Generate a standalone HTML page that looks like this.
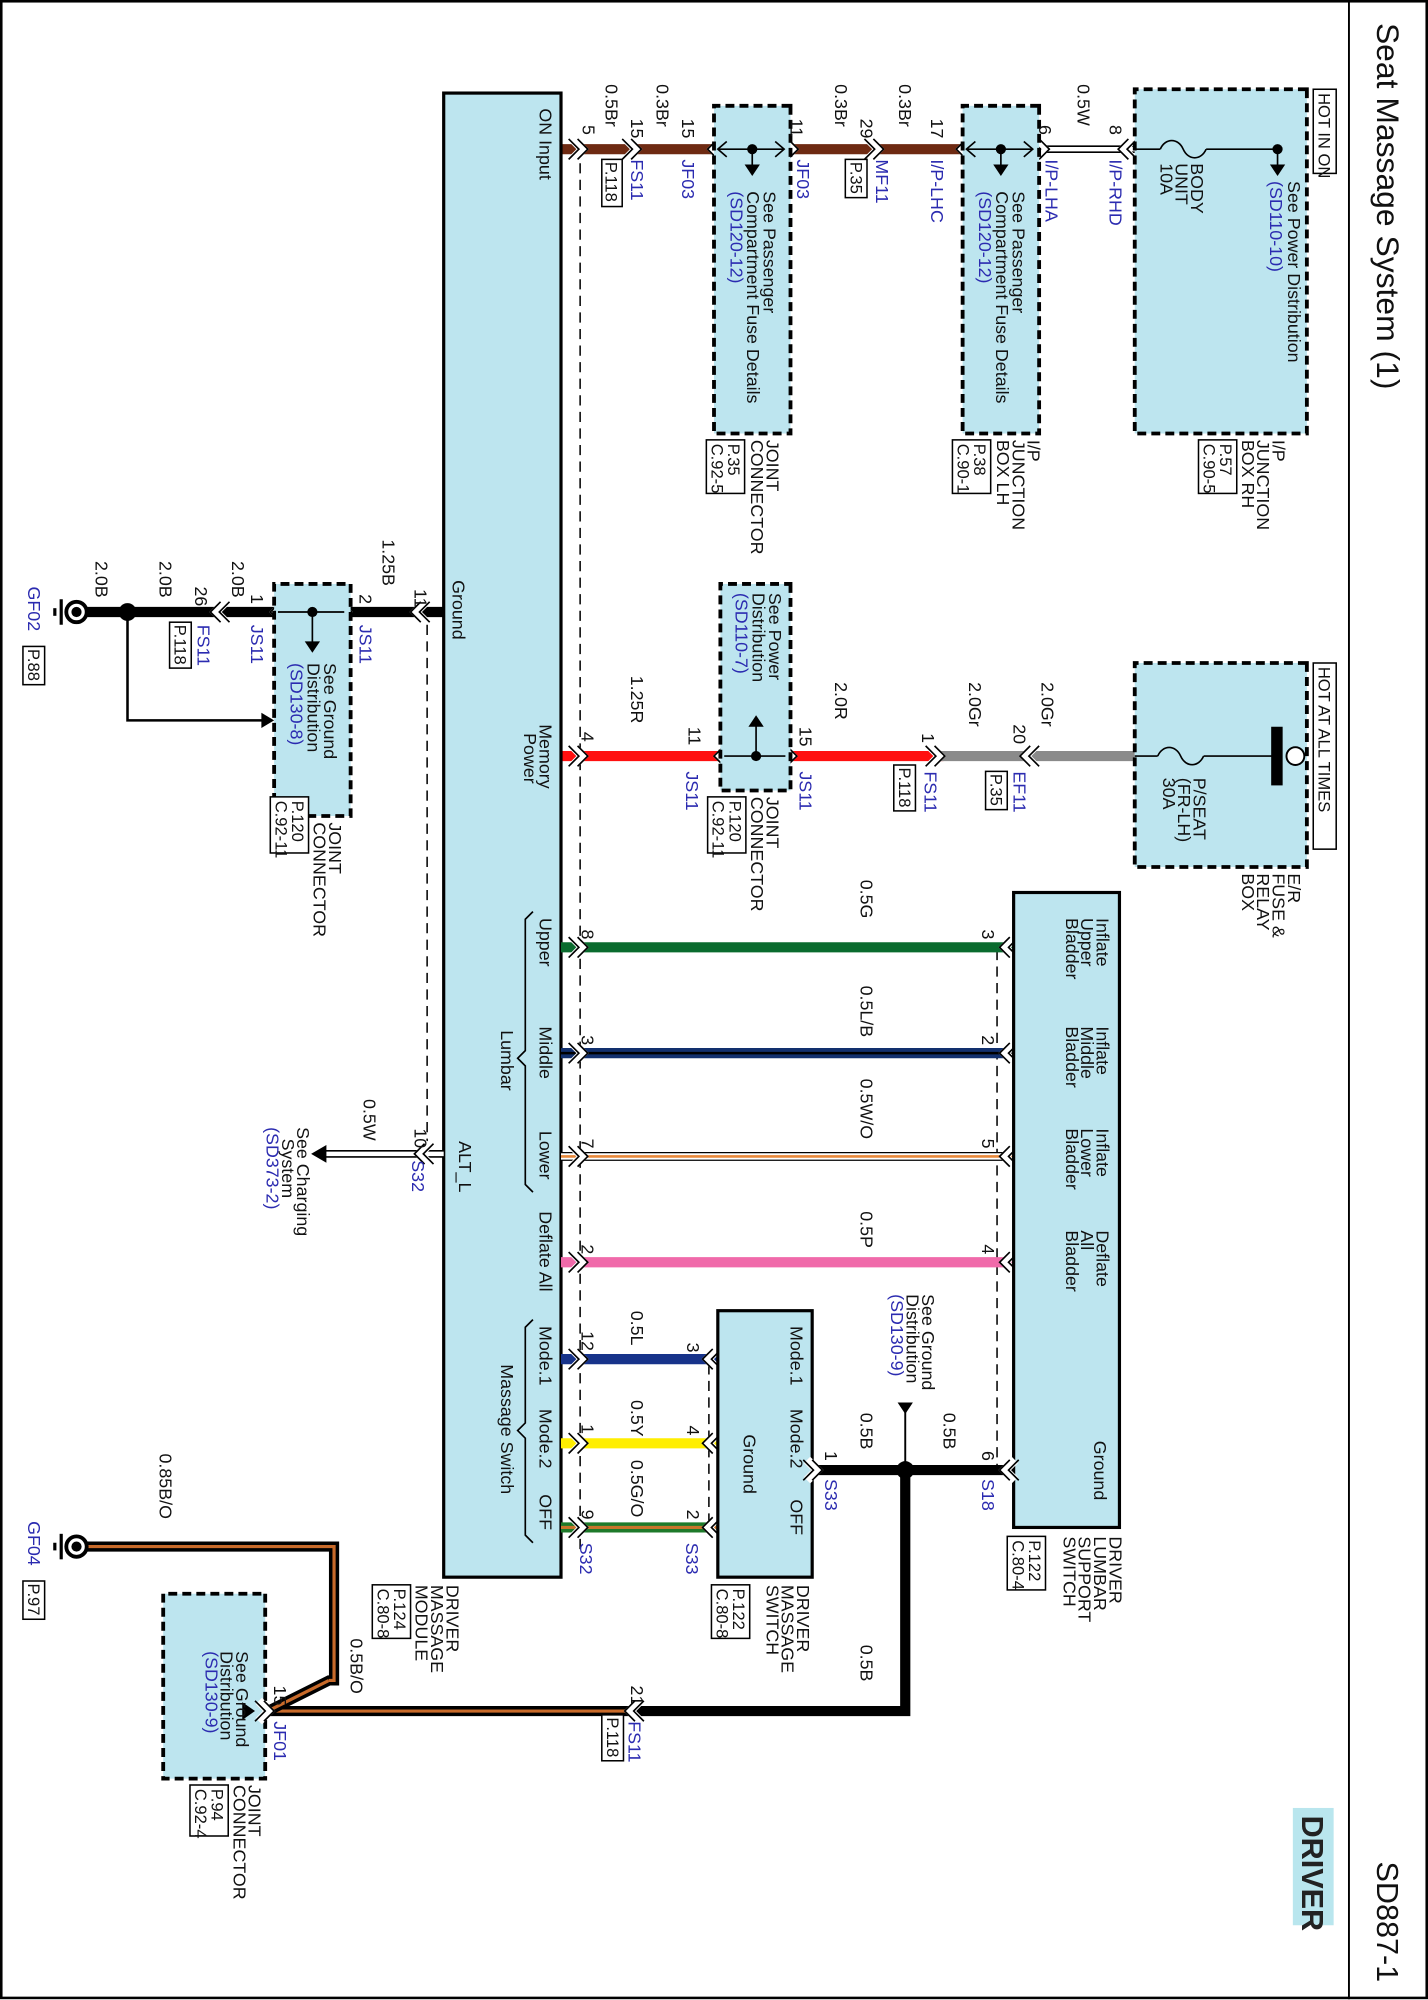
<!DOCTYPE html>
<html><head><meta charset="utf-8">
<style>
html,body{margin:0;padding:0;background:#fff;overflow:hidden;}
svg{display:block;}
text{font-family:"Liberation Sans",Arial,sans-serif;font-size:14px;fill:#111;}
.b{fill:#2b2bb0;}
.s{font-size:13px;}
.bx{fill:#bde5ef;stroke:#000;stroke-width:2.5;}
.db{fill:#bde5ef;stroke:#000;stroke-width:3;stroke-dasharray:7,4;}
.pr{fill:#fff;stroke:#000;stroke-width:1.2;}
.dl{fill:none;stroke:#000;stroke-width:1.2;stroke-dasharray:8,5;}
.th{fill:none;stroke:#000;stroke-width:1.3;}
</style></head><body>
<svg width="1428" height="2000" viewBox="0 0 1428 2000" xmlns="http://www.w3.org/2000/svg">
<defs>
<g id="cu"><path d="M-8,9 L0,1 L8,9" stroke="#fff" stroke-width="7" fill="none"/><path d="M-8,5 L0,-3 L8,5 M-8,12 L0,4 L8,12" stroke="#000" stroke-width="1.3" fill="none"/></g>
<g id="cd"><path d="M-8,-9 L0,-1 L8,-9" stroke="#fff" stroke-width="7" fill="none"/><path d="M-8,-5 L0,3 L8,-5 M-8,-12 L0,-4 L8,-12" stroke="#000" stroke-width="1.3" fill="none"/></g>
</defs>
<rect x="0" y="0" width="1428" height="2000" fill="#fff"/>
<g transform="scale(1.275) translate(1120,0) rotate(90)">
<!-- frame -->
<rect x="1" y="1" width="1566" height="1118" fill="none" stroke="#000" stroke-width="2"/>
<line x1="0" y1="62" x2="1568" y2="62" stroke="#000" stroke-width="1.5"/>
<text x="18" y="40" style="font-size:25px">Seat Massage System (1)</text>
<text x="1460" y="40" style="font-size:24px">SD887-1</text>
<rect x="1418" y="74" width="92" height="32" fill="#b9e6ee"/>
<text x="1424" y="99" style="font-size:24px;font-weight:bold;fill:#222">DRIVER</text>

<!-- dashed guide lines -->
<line x1="115" y1="665" x2="1215" y2="665" class="dl"/>
<line x1="490" y1="785" x2="895" y2="785" class="dl"/>
<line x1="745" y1="338" x2="1160" y2="338" class="dl"/>
<line x1="1070" y1="564" x2="1195" y2="564" class="dl"/>

<!-- ===== TOP WIRE (ON Input) ===== -->
<line x1="117" y1="680" x2="117" y2="320" stroke="#6e2a12" stroke-width="8"/>
<line x1="117" y1="322" x2="117" y2="230" stroke="#000" stroke-width="6"/>
<line x1="117" y1="322" x2="117" y2="230" stroke="#fff" stroke-width="3.5"/>
<use href="#cu" x="117" y="662"/><use href="#cu" x="117" y="620"/><use href="#cd" x="117" y="562"/>
<use href="#cu" x="117" y="497"/><use href="#cu" x="117" y="430"/><use href="#cd" x="117" y="367"/>
<use href="#cu" x="117" y="300"/><use href="#cd" x="117" y="240"/>
<text x="98" y="663">5</text><text x="66" y="645">0.5Br</text>
<text x="93" y="625">15</text><text x="125" y="625" class="b">FS11</text>
<rect x="125" y="632" width="37" height="16" class="pr"/><text x="127" y="645" class="s">P.118</text>
<text x="66" y="605">0.3Br</text>
<text x="93" y="585">15</text><text x="125" y="585" class="b">JF03</text>
<rect x="83" y="500" width="257" height="60" class="db"/>
<line x1="117" y1="505" x2="117" y2="557" stroke="#000" stroke-width="1.3"/>
<path d="M111,512 L117,505 L123,512 M111,550 L117,557 L123,550" class="th"/>
<circle cx="117" cy="530" r="4"/><line x1="117" y1="530" x2="130" y2="530" stroke="#000" stroke-width="1.3"/>
<path d="M129,524 L138,530 L129,536 Z"/>
<text x="150" y="521">See Passenger</text><text x="150" y="534">Compartment Fuse Details</text><text x="150" y="547" class="b">(SD120-12)</text>
<text x="345" y="519">JOINT</text><text x="345" y="531">CONNECTOR</text>
<rect x="345" y="536" width="42" height="30" class="pr"/><text x="348" y="549" class="s">P.35</text><text x="348" y="562" class="s">C.92-5</text>
<text x="93" y="500">11</text><text x="125" y="495" class="b">JF03</text>
<text x="66" y="465">0.3Br</text>
<text x="93" y="445">29</text><text x="125" y="433" class="b">MF11</text>
<rect x="125" y="440" width="30" height="17" class="pr"/><text x="127" y="453" class="s">P.35</text>
<text x="66" y="415">0.3Br</text>
<text x="93" y="390">17</text><text x="125" y="390" class="b">I/P-LHC</text>
<rect x="83" y="305" width="257" height="60" class="db"/>
<line x1="117" y1="310" x2="117" y2="362" stroke="#000" stroke-width="1.3"/>
<path d="M111,317 L117,310 L123,317 M111,355 L117,362 L123,355" class="th"/>
<circle cx="117" cy="335" r="4"/><line x1="117" y1="335" x2="130" y2="335" stroke="#000" stroke-width="1.3"/>
<path d="M129,329 L138,335 L129,341 Z"/>
<text x="150" y="326">See Passenger</text><text x="150" y="339">Compartment Fuse Details</text><text x="150" y="352" class="b">(SD120-12)</text>
<text x="345" y="314">I/P</text><text x="345" y="326">JUNCTION</text><text x="345" y="338">BOX LH</text>
<rect x="345" y="343" width="42" height="30" class="pr"/><text x="348" y="356" class="s">P.38</text><text x="348" y="369" class="s">C.90-1</text>
<text x="98" y="305">6</text><text x="125" y="300" class="b">I/P-LHA</text>
<text x="66" y="275">0.5W</text>
<text x="98" y="250">8</text><text x="125" y="250" class="b">I/P-RHD</text>
<rect x="70" y="95" width="270" height="135" class="db"/>
<line x1="117" y1="230" x2="117" y2="210" stroke="#000" stroke-width="1.3"/>
<path d="M117,210 c-9,-4 -9,-14 0,-18 c9,-4 9,-14 0,-18" class="th"/>
<line x1="117" y1="174" x2="117" y2="118" stroke="#000" stroke-width="1.3"/>
<circle cx="117" cy="118" r="4"/><line x1="117" y1="118" x2="130" y2="118" stroke="#000" stroke-width="1.3"/>
<path d="M129,112 L138,118 L129,124 Z"/>
<text x="142" y="110">See Power Distribution</text><text x="142" y="124" class="b">(SD110-10)</text>
<text x="128" y="186">BODY</text><text x="128" y="198">UNIT</text><text x="128" y="210">10A</text>
<rect x="70" y="72" width="66" height="18" fill="#fff" stroke="#000" stroke-width="1.2"/><text x="73" y="86" class="s">HOT IN ON</text>
<text x="345" y="122">I/P</text><text x="345" y="134">JUNCTION</text><text x="345" y="146">BOX RH</text>
<rect x="345" y="150" width="42" height="30" class="pr"/><text x="348" y="163" class="s">P.57</text><text x="348" y="176" class="s">C.90-5</text>

<!-- ===== GROUND WIRE ===== -->
<line x1="480" y1="772" x2="480" y2="1052" stroke="#000" stroke-width="8"/>
<use href="#cd" x="480" y="795"/><use href="#cu" x="480" y="847"/><use href="#cd" x="480" y="905"/><use href="#cd" x="480" y="952"/>
<text x="462" y="795">11</text><text x="423" y="820">1.25B</text>
<text x="466" y="838">2</text><text x="490" y="838" class="b">JS11</text>
<rect x="458" y="845" width="182" height="60" class="db"/>
<line x1="480" y1="850" x2="480" y2="902" stroke="#000" stroke-width="1.3"/>
<circle cx="480" cy="875" r="4"/><line x1="480" y1="875" x2="505" y2="875" stroke="#000" stroke-width="1.3"/>
<path d="M503,869 L512,875 L503,881 Z"/>
<text x="520" y="866">See Ground</text><text x="520" y="879">Distribution</text><text x="520" y="892" class="b">(SD130-8)</text>
<text x="466" y="923">1</text><text x="490" y="923" class="b">JS11</text>
<text x="440" y="938">2.0B</text>
<text x="460" y="967">26</text><text x="490" y="965" class="b">FS11</text>
<rect x="488" y="970" width="36" height="17" class="pr"/><text x="490" y="983" class="s">P.118</text>
<text x="440" y="995">2.0B</text>
<circle cx="480" cy="1020" r="7"/>
<path d="M480,1020 L565,1020 L565,912" fill="none" stroke="#000" stroke-width="2"/>
<path d="M559,915 L565,905 L571,915 Z"/>
<text x="440" y="1045">2.0B</text>
<circle cx="480" cy="1060" r="8" fill="#fff" stroke="#000" stroke-width="3"/><circle cx="480" cy="1060" r="4"/>
<line x1="470" y1="1072" x2="490" y2="1072" stroke="#000" stroke-width="2.5"/>
<line x1="477" y1="1077" x2="483" y2="1077" stroke="#000" stroke-width="2.5"/>
<text x="460" y="1098" class="b">GF02</text>
<rect x="507" y="1085" width="30" height="17" class="pr"/><text x="509" y="1098" class="s">P.88</text>
<text x="645" y="862">JOINT</text><text x="645" y="874">CONNECTOR</text>
<rect x="625" y="878" width="44" height="30" class="pr"/><text x="628" y="891" class="s">P.120</text><text x="628" y="904" class="s">C.92-11</text>

<!-- ===== MEMORY POWER ===== -->
<line x1="593" y1="680" x2="593" y2="380" stroke="#ff1010" stroke-width="8"/>
<line x1="593" y1="382" x2="593" y2="230" stroke="#8a8a8a" stroke-width="8"/>
<use href="#cu" x="593" y="662"/><use href="#cd" x="593" y="557"/><use href="#cu" x="593" y="498"/>
<use href="#cu" x="593" y="382"/><use href="#cd" x="593" y="317"/>
<text x="574" y="664">4</text><text x="530" y="625">1.25R</text>
<text x="570" y="580">11</text><text x="605" y="582" class="b">JS11</text>
<rect x="458" y="500" width="162" height="55" class="db"/>
<line x1="593" y1="504" x2="593" y2="552" stroke="#000" stroke-width="1.3"/>
<circle cx="593" cy="527" r="4"/><line x1="593" y1="527" x2="568" y2="527" stroke="#000" stroke-width="1.3"/>
<path d="M570,521 L561,527 L570,533 Z"/>
<text x="465" y="517">See Power</text><text x="465" y="530">Distribution</text><text x="465" y="543" class="b">(SD110-7)</text>
<text x="570" y="493">15</text><text x="605" y="493" class="b">JS11</text>
<text x="625" y="519">JOINT</text><text x="625" y="531">CONNECTOR</text>
<rect x="625" y="535" width="44" height="30" class="pr"/><text x="628" y="548" class="s">P.120</text><text x="628" y="561" class="s">C.92-11</text>
<text x="535" y="465">2.0R</text>
<text x="575" y="397">1</text><text x="605" y="395" class="b">FS11</text>
<rect x="600" y="402" width="36" height="17" class="pr"/><text x="602" y="415" class="s">P.118</text>
<text x="535" y="360">2.0Gr</text>
<text x="568" y="325">20</text><text x="605" y="325" class="b">EF11</text>
<rect x="605" y="330" width="30" height="17" class="pr"/><text x="607" y="343" class="s">P.35</text>
<text x="535" y="303">2.0Gr</text>
<rect x="520" y="95" width="160" height="135" class="db"/>
<line x1="593" y1="230" x2="593" y2="212" stroke="#000" stroke-width="1.3"/>
<path d="M593,212 c-9,-4 -9,-14 0,-18 c9,-4 9,-14 0,-18" class="th"/>
<line x1="593" y1="176" x2="593" y2="122" stroke="#000" stroke-width="1.3"/>
<rect x="570" y="114" width="46" height="9"/>
<circle cx="593" cy="104" r="7" fill="#fff" stroke="#000" stroke-width="1.5"/>
<text x="610" y="184">P/SEAT</text><text x="610" y="196">(FR-LH)</text><text x="610" y="208">30A</text>
<rect x="520" y="72" width="146" height="18" fill="#fff" stroke="#000" stroke-width="1.2"/><text x="523" y="86" class="s">HOT AT ALL TIMES</text>
<text x="685" y="110">E/R</text><text x="685" y="122">FUSE &amp;</text><text x="685" y="134">RELAY</text><text x="685" y="146">BOX</text>

<!-- ===== MODULE BOX ===== -->
<rect x="73" y="680" width="1164" height="92" class="bx"/>
<text x="85" y="697">ON Input</text>
<text x="455" y="765">Ground</text>
<text x="568" y="697">Memory</text><text x="575" y="709">Power</text>
<text x="720" y="697">Upper</text><text x="805" y="697">Middle</text><text x="887" y="697">Lower</text>
<text x="950" y="697">Deflate All</text><text x="1040" y="697">Mode.1</text><text x="1105" y="697">Mode.2</text><text x="1172" y="697">OFF</text>
<path d="M715,702 L721,708 L824,708 L830,714 L836,708 L929,708 L935,702" class="th"/>
<text x="808" y="727">Lumbar</text>
<path d="M1035,702 L1041,708 L1116,708 L1122,714 L1128,708 L1204,708 L1210,702" class="th"/>
<text x="1070" y="727">Massage Switch</text>
<text x="895" y="760">ALT_L</text>

<!-- ALT_L wire -->
<line x1="905" y1="772" x2="905" y2="866" stroke="#000" stroke-width="6"/>
<line x1="905" y1="772" x2="905" y2="866" stroke="#fff" stroke-width="3.5"/>
<path d="M898,864 L905,876 L912,864 Z"/>
<use href="#cd" x="905" y="792"/>
<text x="885" y="795">10</text><text x="910" y="797" class="b">S32</text>
<text x="862" y="835">0.5W</text>
<text x="884" y="887">See Charging</text><text x="893" y="899">System</text><text x="884" y="911" class="b">(SD373-2)</text>

<!-- ===== LUMBAR ===== -->
<line x1="743" y1="680" x2="743" y2="325" stroke="#0a6b2e" stroke-width="8"/>
<line x1="826" y1="680" x2="826" y2="325" stroke="#12306e" stroke-width="8"/>
<line x1="826" y1="680" x2="826" y2="325" stroke="#000" stroke-width="2"/>
<line x1="907" y1="680" x2="907" y2="325" stroke="#000" stroke-width="7"/>
<line x1="907" y1="680" x2="907" y2="325" stroke="#fff" stroke-width="5"/>
<line x1="907" y1="680" x2="907" y2="325" stroke="#e8883a" stroke-width="2"/>
<line x1="990" y1="680" x2="990" y2="325" stroke="#f06aaa" stroke-width="8"/>
<use href="#cu" x="743" y="662"/><use href="#cu" x="826" y="662"/><use href="#cu" x="907" y="662"/><use href="#cu" x="990" y="662"/>
<use href="#cd" x="743" y="333"/><use href="#cd" x="826" y="333"/><use href="#cd" x="907" y="333"/><use href="#cd" x="990" y="333"/>
<text x="729" y="664">8</text><text x="729" y="350">3</text><text x="690" y="445">0.5G</text>
<text x="812" y="664">3</text><text x="812" y="350">2</text><text x="773" y="445">0.5L/B</text>
<text x="893" y="664">7</text><text x="893" y="350">5</text><text x="846" y="445">0.5W/O</text>
<text x="976" y="664">2</text><text x="976" y="350">4</text><text x="950" y="445">0.5P</text>
<rect x="700" y="242" width="498" height="83" class="bx"/>
<text x="720" y="260">Inflate</text><text x="720" y="272">Upper</text><text x="720" y="284">Bladder</text>
<text x="805" y="260">Inflate</text><text x="805" y="272">Middle</text><text x="805" y="284">Bladder</text>
<text x="885" y="260">Inflate</text><text x="885" y="272">Lower</text><text x="885" y="284">Bladder</text>
<text x="965" y="260">Deflate</text><text x="965" y="272">All</text><text x="965" y="284">Bladder</text>
<text x="1130" y="262">Ground</text>
<text x="1205" y="250">DRIVER</text><text x="1205" y="262">LUMBAR</text><text x="1205" y="274">SUPPORT</text><text x="1205" y="286">SWITCH</text>
<rect x="1205" y="300" width="42" height="30" class="pr"/><text x="1208" y="313" class="s">P.122</text><text x="1208" y="326" class="s">C.80-4</text>

<!-- ===== MASSAGE SWITCH ===== -->
<line x1="1066" y1="680" x2="1066" y2="557" stroke="#17338a" stroke-width="8"/>
<line x1="1132" y1="680" x2="1132" y2="557" stroke="#ffee00" stroke-width="8"/>
<line x1="1198" y1="680" x2="1198" y2="557" stroke="#1e7a2a" stroke-width="8"/>
<line x1="1198" y1="680" x2="1198" y2="557" stroke="#c8742a" stroke-width="2.5"/>
<use href="#cu" x="1066" y="662"/><use href="#cu" x="1132" y="662"/><use href="#cu" x="1198" y="662"/>
<use href="#cd" x="1066" y="566"/><use href="#cd" x="1132" y="566"/><use href="#cd" x="1198" y="566"/>
<text x="1044" y="664">12</text><text x="1028" y="625">0.5L</text><text x="1053" y="581">3</text>
<text x="1117" y="664">1</text><text x="1098" y="625">0.5Y</text><text x="1118" y="581">4</text>
<text x="1184" y="664">9</text><text x="1145" y="625">0.5G/O</text><text x="1184" y="581">2</text>
<text x="1210" y="665" class="b">S32</text><text x="1210" y="582" class="b">S33</text>
<rect x="1028" y="483" width="209" height="74" class="bx"/>
<text x="1040" y="500">Mode.1</text><text x="1105" y="500">Mode.2</text><text x="1176" y="500">OFF</text>
<text x="1125" y="537">Ground</text>
<text x="1243" y="495">DRIVER</text><text x="1243" y="507">MASSAGE</text><text x="1243" y="519">SWITCH</text>
<rect x="1243" y="532" width="42" height="30" class="pr"/><text x="1246" y="545" class="s">P.122</text><text x="1246" y="558" class="s">C.80-8</text>
<text x="1243" y="770">DRIVER</text><text x="1243" y="782">MASSAGE</text><text x="1243" y="794">MODULE</text>
<rect x="1243" y="798" width="42" height="30" class="pr"/><text x="1246" y="811" class="s">P.124</text><text x="1246" y="824" class="s">C.80-8</text>

<!-- ===== GROUND INTERCONNECT ===== -->
<line x1="1153" y1="325" x2="1153" y2="483" stroke="#000" stroke-width="8"/>
<use href="#cd" x="1153" y="333"/><use href="#cu" x="1153" y="478"/>
<text x="1138" y="350">6</text><text x="1160" y="350" class="b">S18</text>
<text x="1108" y="380">0.5B</text><text x="1108" y="445">0.5B</text>
<text x="1138" y="473">1</text><text x="1160" y="473" class="b">S33</text>
<circle cx="1153" cy="410" r="7"/>
<line x1="1153" y1="410" x2="1100" y2="410" stroke="#000" stroke-width="1.5"/>
<path d="M1100,404 L1109,410 L1100,416 Z"/>
<text x="1015" y="397">See Ground</text><text x="1015" y="409">Distribution</text><text x="1015" y="421" class="b">(SD130-9)</text>
<path d="M1153,410 L1342,410 L1342,625" fill="none" stroke="#000" stroke-width="8"/>
<line x1="1342" y1="625" x2="1342" y2="910" stroke="#000" stroke-width="8"/>
<line x1="1342" y1="625" x2="1342" y2="910" stroke="#c86a2a" stroke-width="2.5"/>
<use href="#cd" x="1342" y="627"/>
<text x="1322" y="625">21</text><text x="1350" y="627" class="b">FS11</text>
<rect x="1345" y="631" width="36" height="17" class="pr"/><text x="1347" y="644" class="s">P.118</text>
<text x="1290" y="445">0.5B</text>
<text x="1285" y="845">0.5B/O</text>
<rect x="1250" y="912" width="145" height="80" class="db"/>
<path d="M1342,910 L1318,862 L1318,858" fill="none" stroke="#000" stroke-width="8"/>
<path d="M1342,910 L1318,862" fill="none" stroke="#c86a2a" stroke-width="2.5"/>
<path d="M1318,862 L1318,858 L1213,858 L1213,1052" fill="none" stroke="#000" stroke-width="8" stroke-linejoin="miter"/>
<path d="M1318,862 L1318,858 L1213,858 L1213,1052" fill="none" stroke="#c86a2a" stroke-width="2.5"/>
<use href="#cu" x="1342" y="908"/>
<path d="M1335,930 L1342,920 L1349,930 Z"/>
<text x="1322" y="905">15</text><text x="1350" y="905" class="b">JF01</text>
<text x="1295" y="935">See Ground</text><text x="1295" y="947">Distribution</text><text x="1295" y="959" class="b">(SD130-9)</text>
<text x="1400" y="925">JOINT</text><text x="1400" y="937">CONNECTOR</text>
<rect x="1400" y="941" width="40" height="30" class="pr"/><text x="1403" y="954" class="s">P.94</text><text x="1403" y="967" class="s">C.92-4</text>
<text x="1140" y="995">0.85B/O</text>
<circle cx="1213" cy="1060" r="8" fill="#fff" stroke="#000" stroke-width="3"/><circle cx="1213" cy="1060" r="4"/>
<line x1="1203" y1="1072" x2="1223" y2="1072" stroke="#000" stroke-width="2.5"/>
<line x1="1210" y1="1077" x2="1216" y2="1077" stroke="#000" stroke-width="2.5"/>
<text x="1193" y="1098" class="b">GF04</text>
<rect x="1240" y="1085" width="30" height="17" class="pr"/><text x="1242" y="1098" class="s">P.97</text>
</g>
</svg>
</body></html>
